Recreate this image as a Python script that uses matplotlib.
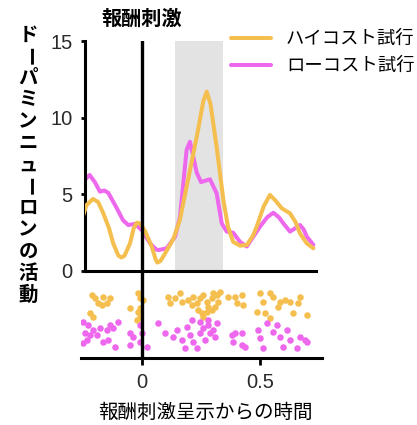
import matplotlib
matplotlib.use("Agg")
import matplotlib.pyplot as plt

JP = ['Noto Sans CJK JP', 'DejaVu Sans']
NUM = ['Liberation Sans', 'DejaVu Sans']

# ---- data ----
high_t = [-0.250, -0.235, -0.208, -0.186, -0.165, -0.140, -0.122, -0.100, -0.087, -0.074,
          -0.051, -0.035, -0.022, -0.008, 0.013, 0.041, 0.058, 0.065, 0.078, 0.098,
          0.133, 0.160, 0.189, 0.232, 0.260, 0.274, 0.290, 0.316, 0.345, 0.364,
          0.386, 0.415, 0.444, 0.470, 0.486, 0.515, 0.542, 0.565, 0.592, 0.627,
          0.650, 0.669, 0.698, 0.726]
high_y = [3.6, 4.3, 4.7, 4.5, 3.8, 2.8, 1.8, 1.0, 0.88, 1.0,
          1.8, 2.8, 3.15, 3.1, 2.6, 1.6, 0.75, 0.55, 0.65, 1.15,
          2.1, 3.3, 5.5, 8.76, 11.1, 11.7, 10.9, 8.1, 4.6, 2.9,
          1.9, 1.65, 1.7, 2.3, 2.9, 4.2, 4.96, 4.6, 4.09, 3.76,
          3.2, 2.46, 1.8, 1.48]

low_t = [-0.250, -0.222, -0.200, -0.178, -0.160, -0.143, -0.125, -0.107, -0.080, -0.058,
         -0.030, -0.001, 0.034, 0.060, 0.072, 0.105, 0.140, 0.161, 0.176, 0.189,
         0.203, 0.215, 0.232, 0.250, 0.270, 0.288, 0.316, 0.338, 0.359, 0.386,
         0.415, 0.444, 0.470, 0.500, 0.530, 0.556, 0.580, 0.599, 0.627, 0.650,
         0.669, 0.685, 0.698, 0.726]
low_y = [5.83, 6.26, 5.8, 5.17, 5.25, 5.1, 4.6, 4.1, 3.3, 3.0,
         3.07, 2.67, 1.8, 1.4, 1.37, 1.48, 2.24, 3.54, 5.9, 7.9,
         8.43, 7.6, 6.4, 5.8, 5.9, 5.98, 5.07, 3.1, 2.57, 2.5,
         1.9, 1.6, 2.2, 2.9, 3.5, 3.8, 3.5, 3.1, 2.57, 2.8,
         3.0, 2.7, 2.24, 1.7]

high_spike_t = [-0.213, -0.199, -0.164, -0.136, -0.171, -0.185, -0.150, -0.220, -0.206, -0.051,
                -0.015, -0.008, 0.006, -0.008, -0.015, -0.008, -0.022, 0.112, 0.119, 0.140,
                0.161, 0.168, 0.196, 0.210, 0.218, 0.232, 0.246, 0.260, 0.274, 0.281,
                0.295, 0.302, 0.316, 0.324, 0.239, 0.253, 0.274, 0.295, 0.260, 0.309,
                0.331, 0.366, 0.394, 0.422, 0.401, 0.429, 0.500, 0.542, 0.514, 0.557,
                0.585, 0.606, 0.627, 0.578, 0.486, 0.521, 0.542, 0.641, 0.669, 0.662,
                0.698]
high_spike_row = [63, 60, 61, 60, 53, 55, 55, 45, 41, 50,
                  65, 60, 58, 50, 46, 41, 38, 61, 55, 60,
                  65, 56, 58, 53, 61, 55, 60, 63, 56, 51,
                  60, 65, 63, 56, 48, 45, 46, 48, 41, 51,
                  66, 61, 61, 63, 55, 53, 65, 65, 56, 61,
                  56, 58, 56, 51, 46, 45, 40, 45, 61, 55,
                  43]

low_spike_t = [-0.249, -0.227, -0.206, -0.242, -0.220, -0.192, -0.178, -0.150, -0.136, -0.121,
               -0.100, -0.164, -0.143, -0.114, -0.249, -0.234, -0.051, -0.037, -0.051, -0.008,
               -0.001, -0.008, 0.020, 0.069, 0.097, 0.133, 0.147, 0.168, 0.182, 0.189,
               0.203, 0.218, 0.232, 0.246, 0.260, 0.267, 0.281, 0.288, 0.302, 0.309,
               0.316, 0.210, 0.246, 0.281, 0.380, 0.394, 0.387, 0.422, 0.422, 0.436,
               0.493, 0.500, 0.514, 0.528, 0.557, 0.571, 0.585, 0.599, 0.613, 0.627,
               0.655, 0.669, 0.691, 0.698]
low_spike_row = [36, 33, 28, 25, 23, 23, 30, 28, 33, 30,
                 36, 16, 18, 11, 15, 18, 25, 21, 13, 33,
                 25, 16, 11, 35, 25, 21, 28, 18, 10, 31,
                 23, 16, 10, 25, 30, 18, 33, 25, 28, 21,
                 35, 38, 36, 38, 23, 25, 16, 25, 13, 11,
                 28, 20, 10, 35, 26, 33, 21, 11, 28, 18,
                 10, 21, 18, 16]

y_ticks = [0, 5, 10, 15]
x_ticks = [0, 0.5]
x_tick_labels = ['0', '0.5']
window = (0.14, 0.343)
series_labels = ['ハイコスト試行', 'ローコスト試行']
y_label = 'ドーパミンニューロンの活動'

C_HIGH = '#F5BF4F'
C_LOW = '#EE68EE'

W, H = 417, 425
fig = plt.figure(figsize=(W / 100, H / 100), dpi=100)

ax = fig.add_axes([85 / W, 1 - 271 / H, 231 / W, 230 / H])
axr = fig.add_axes([81 / W, 1 - 358 / H, 241 / W, 87 / H])

# upper panel
ax.axvspan(window[0], window[1], color='#E3E3E3', lw=0, zorder=0)
l1, = ax.plot(high_t, high_y, color=C_HIGH, lw=2.9, solid_joinstyle='round',
              solid_capstyle='round', zorder=3, label=series_labels[0])
l2, = ax.plot(low_t, low_y, color=C_LOW, lw=2.9, solid_joinstyle='round',
              solid_capstyle='round', zorder=2, label=series_labels[1])
ax.axvline(0, color='black', lw=2.4, zorder=4)
ax.set_xlim(-0.2415, 0.737)
ax.set_ylim(0, 15)
ax.set_yticks(y_ticks)
ax.set_yticklabels([str(v) for v in y_ticks], family=NUM, fontsize=14.5, color='#2a2a2a')
ax.set_xticks([])
for s in ['top', 'right']:
    ax.spines[s].set_visible(False)
for s in ['left', 'bottom']:
    ax.spines[s].set_linewidth(2.2)
ax.tick_params(axis='y', length=3, width=2, pad=6)
ax.patch.set_alpha(0)

# raster panel
axr.scatter(high_spike_t, high_spike_row, s=22, color=C_HIGH, lw=0, zorder=2)
axr.scatter(low_spike_t, low_spike_row, s=22, color=C_LOW, lw=0, zorder=2)
axr.axvline(0, color='black', lw=2.4, zorder=3)
axr.set_xlim(-0.2585, 0.7627)
axr.set_ylim(0, 87)
axr.set_yticks([])
axr.set_xticks(x_ticks)
axr.set_xticklabels(x_tick_labels, family=NUM, fontsize=14.5, color='#2a2a2a')
for s in ['top', 'right', 'left']:
    axr.spines[s].set_visible(False)
axr.spines['bottom'].set_linewidth(2.2)
axr.tick_params(axis='x', length=5, width=2, pad=6)
axr.patch.set_alpha(0)

# legend
leg = fig.legend(handles=[l1, l2], loc='upper left', bbox_to_anchor=(231 / W, 1 - 30 / H),
                 frameon=False, prop={'family': JP, 'size': 13.2}, handlelength=2.2,
                 handletextpad=0.8, labelspacing=0.5, borderaxespad=0, borderpad=0)

# texts
fig.text(142 / W, 1 - 18 / H, '報酬刺激', family=JP, fontsize=14.5, fontweight='bold',
         ha='center', va='center')
fig.text(205 / W, 1 - 412 / H, '報酬刺激呈示からの時間', family=JP, fontsize=14,
         ha='center', va='center')

# vertical (tategaki) y label: one glyph per row, long-vowel mark turned upright
n = len(y_label)
top_c, bot_c = 35, 295
for i, ch in enumerate(y_label):
    yc = top_c + (bot_c - top_c) * i / (n - 1)
    fig.text(28 / W, 1 - yc / H, ch, family=JP, fontsize=14, fontweight='bold',
             ha='center', va='center', rotation=(-90 if ch == 'ー' else 0),
             rotation_mode='anchor')

fig.savefig('out.png', dpi=100)
